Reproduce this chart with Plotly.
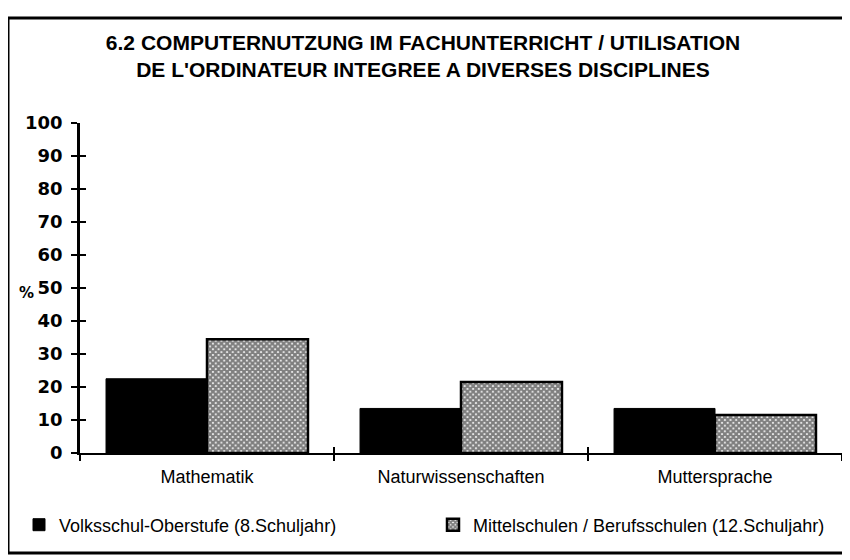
import plotly.graph_objects as go

# ---- data ----
categories = ["Mathematik", "Naturwissenschaften", "Muttersprache"]
volksschule = [22.5, 13.5, 13.5]
mittelschulen = [34.5, 21.5, 11.5]
series_names = ["Volksschul-Oberstufe (8.Schuljahr)",
                "Mittelschulen / Berufsschulen (12.Schuljahr)"]
y_ticks = [0, 10, 20, 30, 40, 50, 60, 70, 80, 90, 100]
title_lines = ["6.2 COMPUTERNUTZUNG IM FACHUNTERRICHT / UTILISATION",
               "DE L'ORDINATEUR INTEGREE A DIVERSES DISCIPLINES"]

# page geometry (the html body has an 8px margin)
OFF = 8
PAGE_W, PAGE_H = 850, 560
FIG_W, FIG_H = PAGE_W - OFF, PAGE_H - OFF
PLOT_X0, PLOT_X1 = 80, 842      # page px
PLOT_Y0, PLOT_Y1 = 123, 453     # page px (top, bottom)
PW, PH = PLOT_X1 - PLOT_X0, PLOT_Y1 - PLOT_Y0


def px(x):
    return (x - PLOT_X0) / PW


def py(y):
    return (PLOT_Y1 - y) / PH


ARIAL = "Liberation Sans, Arial, sans-serif"

fig = go.Figure()
fig.add_trace(go.Bar(
    x=categories, y=volksschule, name=series_names[0], legend="legend",
    marker=dict(color="black", line=dict(color="black", width=1)),
))
fig.add_trace(go.Bar(
    x=categories, y=mittelschulen, name=series_names[1], legend="legend2",
    marker=dict(color="white", line=dict(color="black", width=2.5),
                pattern=dict(shape="x", size=4, solidity=0.8,
                             fgcolor="black", bgcolor="white",
                             fillmode="overlay")),
))
# helper trace for inner half of the cross ticks
fig.add_trace(go.Scatter(x=categories, y=[0, 0, 0], xaxis="x2", yaxis="y2",
                         mode="markers", marker=dict(opacity=0),
                         showlegend=False, hoverinfo="skip"))

legend_common = dict(orientation="h", xanchor="left", yanchor="middle",
                     y=py(525), font=dict(family=ARIAL, size=18, color="black"),
                     bgcolor="rgba(0,0,0,0)")

fig.update_layout(
    width=FIG_W, height=FIG_H,
    margin=dict(l=PLOT_X0 - OFF, r=FIG_W - (PLOT_X1 - OFF), t=PLOT_Y0 - OFF,
                b=FIG_H - (PLOT_Y1 - OFF), autoexpand=False),
    paper_bgcolor="white", plot_bgcolor="white",
    barmode="group", bargap=0.205, bargroupgap=0,
    title=dict(text="<br>".join(title_lines), x=(423 - OFF) / FIG_W,
               xanchor="center", xref="container",
               y=1 - (50 - OFF) / FIG_H, yanchor="middle", yref="container",
               font=dict(family=ARIAL, size=21, color="black", weight="bold")),
    xaxis=dict(type="category", categoryorder="array", categoryarray=categories,
               showline=True, linecolor="black", linewidth=2,
               ticks="outside", ticklen=6, tickwidth=2, tickcolor="black",
               tickson="boundaries", showgrid=False, zeroline=False,
               ticklabelstandoff=6,
               tickfont=dict(family=ARIAL, size=18, color="black")),
    xaxis2=dict(type="category", overlaying="x", matches="x",
                categoryorder="array", categoryarray=categories,
                showline=False, ticks="inside", ticklen=6, tickwidth=2,
                tickcolor="black", tickson="boundaries",
                showticklabels=False, showgrid=False, zeroline=False),
    yaxis=dict(range=[0, 100], tickvals=y_ticks, showline=True,
               linecolor="black", linewidth=2.5,
               ticks="outside", ticklen=6, tickwidth=2, tickcolor="black",
               showgrid=False, zeroline=False, ticklabelstandoff=5,
               tickfont=dict(family="DejaVu Sans", size=18, color="black",
                             weight="bold")),
    yaxis2=dict(range=[0, 100], overlaying="y", matches="y", tickvals=y_ticks,
                showline=False, ticks="inside", ticklen=6, tickwidth=2,
                tickcolor="black", showticklabels=False, showgrid=False,
                zeroline=False),
    legend=dict(x=px(19), **legend_common),
    legend2=dict(x=px(433), **legend_common),
    showlegend=True,
)

fig.add_annotation(text="%", x=px(27), y=py(293), xref="paper", yref="paper",
                   showarrow=False, xanchor="center", yanchor="middle",
                   font=dict(family="DejaVu Sans", size=15, color="black",
                             weight="bold"))

# outer frame
fig.add_shape(type="rect", xref="paper", yref="paper",
              x0=px(8), x1=px(847), y0=py(553), y1=py(18),
              line=dict(color="black", width=3), fillcolor="rgba(0,0,0,0)",
              layer="above")

fig.write_html("out.html")
